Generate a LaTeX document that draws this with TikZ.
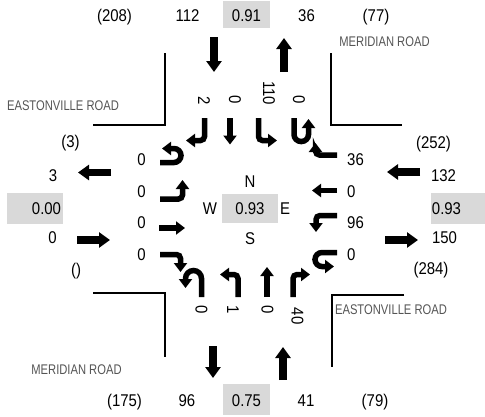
\documentclass[tikz,border=0pt]{standalone}
\usepackage{fontspec}
\setmainfont{Liberation Sans}
\usetikzlibrary{arrows.meta}
\definecolor{boxgray}{RGB}{217,217,217}
\definecolor{roadgray}{RGB}{85,85,85}
\newcommand{\nm}[1]{\scalebox{0.88}[1]{#1}}
\newcommand{\rdl}[1]{\scalebox{0.8}[1]{#1}}
\begin{document}
\begin{tikzpicture}[x=1pt,y=-1pt,
  num/.style={anchor=base, yshift=-6pt, inner sep=0pt, font=\fontsize{17}{20}\selectfont},
  rnum/.style={anchor=center, rotate=-90, inner sep=0pt, font=\fontsize{17}{20}\selectfont},
  road/.style={anchor=center, inner sep=0pt, text=roadgray, font=\fontsize{14}{16}\selectfont},
  gbox/.style={fill=boxgray},
  big/.style={line width=7.5pt, -{Triangle[width=15pt,length=11pt]}},
  lane/.style={line width=5.5pt, -{Triangle[width=13pt,length=9pt]}, rounded corners=4pt},
  curb/.style={line width=2pt}
]
\useasboundingbox (0,0) rectangle (485,416);
\fill[white] (0,0) rectangle (485,416);

% gray boxes
\path[gbox] (223,1) rectangle (270,28);
\path[gbox] (223,384) rectangle (270,415);
\path[gbox] (7,193) rectangle (63,224);
\path[gbox] (431,193) rectangle (485,224);
\path[gbox] (222,194) rectangle (278,223);

% curbs
\draw[curb] (164.5,53) -- (164.5,125) -- (93,125);
\draw[curb] (330.5,53) -- (330.5,125) -- (402,125);
\draw[curb] (93,293) -- (164.5,293) -- (164.5,357);
\draw[curb] (404,295) -- (332,295) -- (332,367);

% road names
\node[road] (rdN) at (384.5,42) {\rdl{MERIDIAN ROAD}};
\node[road] (rdW) at (63,105.5) {\rdl{EASTONVILLE ROAD}};
\node[road] (rdE) at (391,310) {\rdl{EASTONVILLE ROAD}};
\node[road] (rdS) at (76.5,370) {\rdl{MERIDIAN ROAD}};

% top row
\node[num] (t1) at (114.5,15) {\nm{(208)}};
\node[num] (t2) at (187.5,15) {\nm{112}};
\node[num] (t3) at (246.5,15) {\nm{0.91}};
\node[num] (t4) at (306.5,15) {\nm{36}};
\node[num] (t5) at (376,15) {\nm{(77)}};
% bottom row
\node[num] (b1) at (124.5,400) {\nm{(175)}};
\node[num] (b2) at (187,400) {\nm{96}};
\node[num] (b3) at (246.5,400) {\nm{0.75}};
\node[num] (b4) at (306,400) {\nm{41}};
\node[num] (b5) at (375,400) {\nm{(79)}};
% left column
\node[num] (l1) at (70.5,141) {\nm{(3)}};
\node[num] (l2) at (53,175) {\nm{3}};
\node[num] (l3) at (46.5,208.5) {\nm{0.00}};
\node[num] (l4) at (52.5,237) {\nm{0}};
\node[num] (l5) at (76,269) {\nm{()}};
% right column
\node[num] (r1) at (433.5,142) {\nm{(252)}};
\node[num] (r2) at (443.5,175) {\nm{132}};
\node[num] (r3) at (446.5,208.5) {\nm{0.93}};
\node[num] (r4) at (444.5,237) {\nm{150}};
\node[num] (r5) at (431,268) {\nm{(284)}};
% center
\node[num] (cN) at (250,181.5) {\nm{N}};
\node[num] (cW) at (210,208.5) {\nm{W}};
\node[num] (cC) at (250,208.5) {\nm{0.93}};
\node[num] (cE) at (285,208.5) {\nm{E}};
\node[num] (cS) at (250,238) {\nm{S}};

% lane volume labels
\node[rnum] (tl1) at (204,100.5) {\nm{2}};
\node[rnum] (tl2) at (235,100) {\nm{0}};
\node[rnum] (tl3) at (269,93) {\nm{110}};
\node[rnum] (tl4) at (299,100) {\nm{0}};
\node[rnum] (bl1) at (201.5,310) {\nm{0}};
\node[rnum] (bl2) at (233,310) {\nm{1}};
\node[rnum] (bl3) at (267.5,310) {\nm{0}};
\node[rnum] (bl4) at (297.5,316) {\nm{40}};
\node[num] (ll1) at (141.5,159) {\nm{0}};
\node[num] (ll2) at (141.5,191) {\nm{0}};
\node[num] (ll3) at (141.5,222.5) {\nm{0}};
\node[num] (ll4) at (141.5,254) {\nm{0}};
\node[num,anchor=base west] (rl1) at (347,159) {\nm{36}};
\node[num,anchor=base west] (rl2) at (347,191) {\nm{0}};
\node[num,anchor=base west] (rl3) at (347,222.5) {\nm{96}};
\node[num,anchor=base west] (rl4) at (347,254) {\nm{0}};

% approach arrows
\draw[big] (214,37) -- (214,72);
\draw[big] (284,72) -- (284,38);
\draw[big] (213,346) -- (213,378);
\draw[big] (283,380) -- (283,347);
\draw[big] (111,172.5) -- (78,172.5);
\draw[big] (77,240) -- (110,240);
\draw[big] (420,172) -- (387,172);
\draw[big] (385,240) -- (418,240);

% southbound lanes
\draw[lane] (204.5,118) -- (204.5,140.5) -- (186,140.5);
\draw[lane] (230,118) -- (230,144.5);
\draw[lane] (258.5,118) -- (258.5,140.5) -- (277,140.5);
\draw[lane, rounded corners=7pt] (294,118) -- (294,141.5) -- (308.5,141.5) -- (308.5,119);
% westbound lanes
\draw[lane] (337,155) -- (315.5,155) -- (315.5,143);
\draw[lane] (337,190.5) -- (312,190.5);
\draw[lane] (337,215.5) -- (316,215.5) -- (316,232);
\draw[lane, rounded corners=7pt] (337,252.5) -- (315,252.5) -- (315,266.5) -- (334,266.5);
% northbound lanes
\draw[lane, rounded corners=8pt] (201.5,297) -- (201.5,270.5) -- (185.5,270.5) -- (185.5,288);
\draw[lane] (238,297) -- (238,274.5) -- (220,274.5);
\draw[lane] (267,297) -- (267,267);
\draw[lane] (293,297) -- (293,274.5) -- (310,274.5);
% eastbound lanes
\draw[lane, rounded corners=7pt] (160,162.5) -- (181,162.5) -- (181,148.5) -- (162,148.5);
\draw[lane] (160,199) -- (182.5,199) -- (182.5,180);
\draw[lane] (159,228) -- (185,228);
\draw[lane] (160,254.5) -- (180.5,254.5) -- (180.5,272);
\end{tikzpicture}
\end{document}
